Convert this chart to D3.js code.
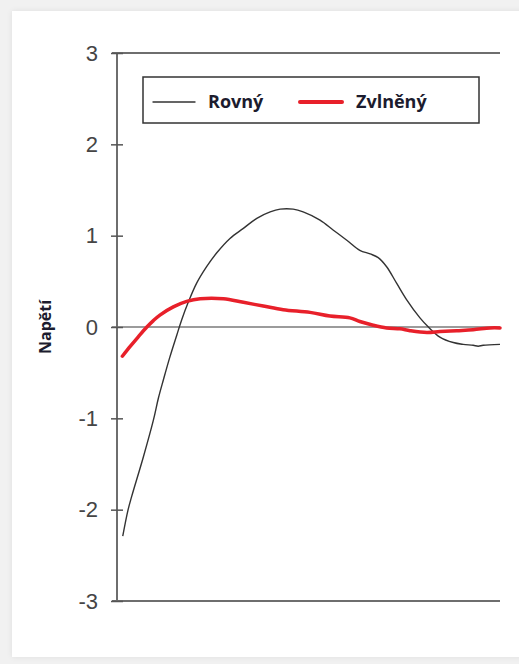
<!DOCTYPE html>
<html>
<head>
<meta charset="utf-8">
<script src="https://cdn.jsdelivr.net/npm/d3@7"></script>
<style>
  html, body { margin: 0; padding: 0; background: #f1f1f1; width: 519px; height: 664px; overflow: hidden; }
  #card { position: absolute; left: 12px; top: 11px; width: 520px; height: 646px; background: #fff;
          box-shadow: 0 0 6px rgba(0,0,0,0.08); }
  svg { position: absolute; left: 0; top: 0; }
</style>
</head>
<body>
<div id="card"></div>
<svg id="chart" width="519" height="664"></svg>
<script>
// ---- data ----
const yTicks = [3, 2, 1, 0, -1, -2, -3];
const seriesNames = ["Rovný", "Zvlněný"];
const axisTitle = "Napětí";

const rovnyT = [1.5, 2.9, 3.8, 6.9, 9.5, 10.8, 12.1, 13.8, 15.6, 16.9, 18.6, 20.8, 23.4, 26.0, 29.5, 33.0, 36.5, 40.0, 42.6, 46.0, 48.6, 53.0, 56.5, 60.0, 63.4, 66.1, 68.2, 70.4, 73.0, 75.6, 79.1, 81.3, 84.3, 87.8, 90.4, 93.0, 94.3, 95.6, 100];
const rovnyV = [-2.29, -2.00, -1.86, -1.42, -1.02, -0.78, -0.58, -0.33, -0.09, 0.08, 0.27, 0.48, 0.66, 0.81, 0.97, 1.08, 1.19, 1.26, 1.29, 1.29, 1.26, 1.17, 1.06, 0.95, 0.84, 0.80, 0.76, 0.66, 0.48, 0.30, 0.10, 0.00, -0.11, -0.17, -0.19, -0.20, -0.21, -0.20, -0.19];

const zvlT = [1.4, 3.5, 5.5, 7.8, 9.5, 11.2, 14.7, 18.2, 21.7, 27.8, 33.0, 38.2, 43.4, 50.4, 55.6, 60.8, 63.4, 66.9, 70.4, 73.9, 76.5, 80.9, 84.3, 88.7, 93.0, 97.4, 100];
const zvlV = [-0.32, -0.21, -0.11, 0.00, 0.07, 0.13, 0.22, 0.28, 0.31, 0.31, 0.27, 0.23, 0.19, 0.16, 0.12, 0.10, 0.06, 0.02, -0.01, -0.02, -0.04, -0.06, -0.05, -0.04, -0.03, -0.01, -0.01];

// ---- layout ----
const mLeft = 117, mRight = 500, mTop = 53, mBottom = 601;
const svg = d3.select("#chart");

const x = d3.scaleLinear().domain([0, 100]).range([mLeft, mRight]);
const y = d3.scaleLinear().domain([-3, 3]).range([mBottom, mTop]);

// horizontal reference lines (top, zero, bottom)
svg.selectAll("line.h")
  .data([3, 0, -3])
  .join("line")
  .attr("class", "h")
  .attr("x1", mLeft - 5).attr("x2", mRight)
  .attr("y1", d => y(d)).attr("y2", d => y(d))
  .attr("stroke", d => d === 0 ? "#7a7a7a" : "#6e6e6e")
  .attr("stroke-width", d => d === 0 ? 1.5 : 2);

// y axis
const yAxis = d3.axisLeft(y).tickValues(yTicks).tickFormat(d => String(d)).tickSize(6).tickPadding(13);
const gy = svg.append("g").attr("transform", `translate(${mLeft},0)`).call(yAxis);
gy.select(".domain").attr("stroke", "#6e6e6e").attr("stroke-width", 2).attr("d", `M0,${mTop}V${mBottom}`);
gy.selectAll(".tick line").attr("x1", -6).attr("x2", 6).attr("stroke", "#555").attr("stroke-width", 1.5);
gy.selectAll(".tick text")
  .attr("font-family", "'Liberation Sans', Arial, sans-serif")
  .attr("font-size", 22)
  .attr("fill", "#454545");

// axis title
svg.append("text")
  .attr("transform", `translate(51,${y(0)}) rotate(-90)`)
  .attr("text-anchor", "middle")
  .attr("font-family", "'Open Sans', sans-serif")
  .attr("font-weight", "bold")
  .attr("font-size", 16)
  .attr("fill", "#1c1c2e")
  .text(axisTitle);

// lines
const line = d3.line().x(d => x(d[0])).y(d => y(d[1])).curve(d3.curveCatmullRom.alpha(0.5));
const rovny = d3.zip(rovnyT, rovnyV);
const zvl = d3.zip(zvlT, zvlV);

svg.append("path").datum(rovny)
  .attr("d", line).attr("fill", "none")
  .attr("stroke", "#333").attr("stroke-width", 1.4);

svg.append("path").datum(zvl)
  .attr("d", line).attr("fill", "none")
  .attr("stroke", "#e8202a").attr("stroke-width", 3.5).attr("stroke-linecap", "round");

// legend
const lg = svg.append("g");
lg.append("rect")
  .attr("x", 143).attr("y", 77).attr("width", 336).attr("height", 46)
  .attr("fill", "#fff").attr("stroke", "#333").attr("stroke-width", 1.5);

const legendItems = [
  { name: seriesNames[0], color: "#333", w: 1.4, lx: 153, tx: 208 },
  { name: seriesNames[1], color: "#e8202a", w: 4, lx: 300, tx: 356 }
];
const li = lg.selectAll("g.item").data(legendItems).join("g").attr("class", "item");
li.append("line")
  .attr("x1", d => d.lx).attr("x2", d => d.lx + 42)
  .attr("y1", 102).attr("y2", 102)
  .attr("stroke", d => d.color).attr("stroke-width", d => d.w).attr("stroke-linecap", "round");
li.append("text")
  .attr("x", d => d.tx).attr("y", 108)
  .attr("font-family", "'Open Sans', sans-serif")
  .attr("font-weight", "bold")
  .attr("font-size", 18)
  .attr("fill", "#1c1c2e")
  .text(d => d.name);
</script>
</body>
</html>
